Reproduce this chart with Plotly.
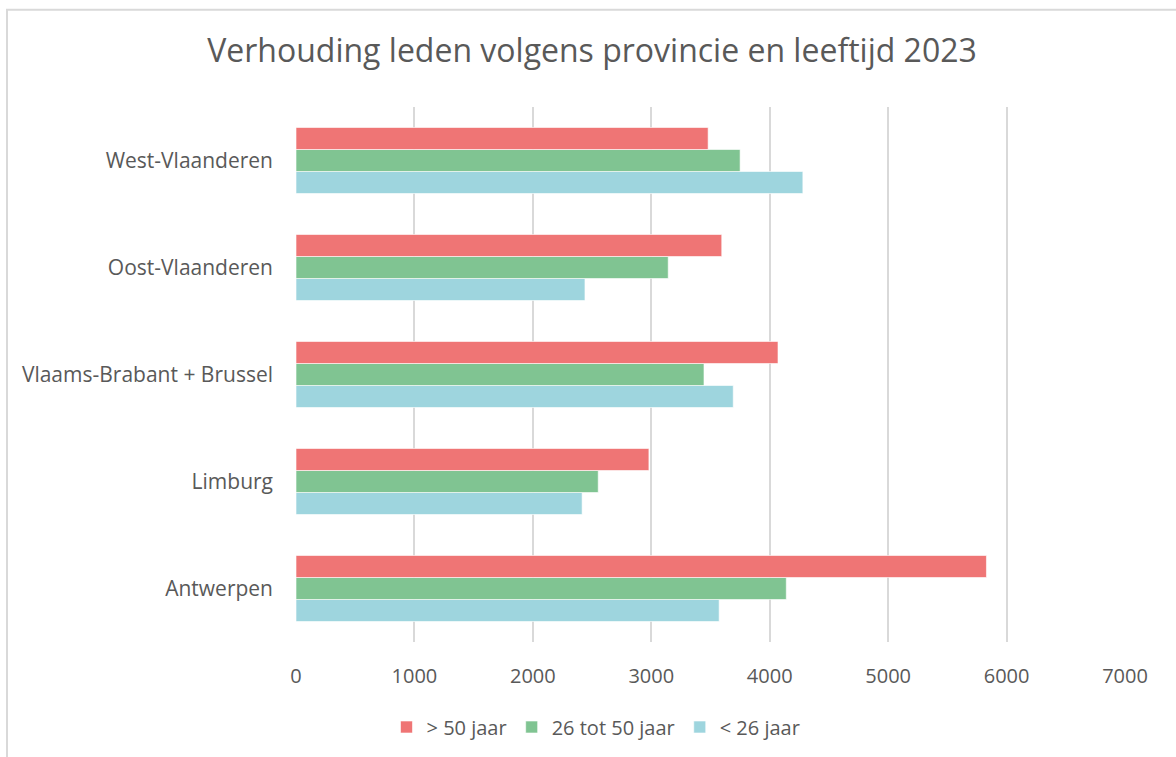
import plotly.graph_objects as go

provinces = ["Antwerpen", "Limburg", "Vlaams-Brabant + Brussel", "Oost-Vlaanderen", "West-Vlaanderen"]
over_50 = [5830, 2980, 4070, 3595, 3480]
between_26_50 = [4140, 2552, 3445, 3143, 3750]
under_26 = [3573, 2416, 3692, 2440, 4280]

series_names = ["> 50 jaar", "26 tot 50 jaar", "< 26 jaar"]
colors = ["#EF7575", "#80C492", "#9ED5DE"]

fig = go.Figure()
# plotly places grouped horizontal bars bottom-up, so add in reverse
for name, vals, col in zip(series_names[::-1], [under_26, between_26_50, over_50], colors[::-1]):
    fig.add_trace(go.Bar(
        y=provinces, x=vals, name=name, orientation="h",
        marker=dict(color=col, line=dict(color="rgba(255,255,255,0.6)", width=1)),
    ))

W, H = 1176, 757
L, R, T, B = 296, 51, 107, 114
pw, ph = W - L - R, H - T - B

fig.update_layout(
    width=W, height=H,
    barmode="group", bargap=0.383, bargroupgap=0,
    plot_bgcolor="white", paper_bgcolor="white",
    margin=dict(l=L, r=R, t=T, b=B),
    font=dict(family="Open Sans, Liberation Sans, sans-serif", color="#595959", size=20),
    title=dict(text="Verhouding leden volgens provincie en leeftijd 2023",
               x=592 / W, xanchor="center",
               y=1 - 51 / H, yanchor="middle",
               font=dict(size=32, color="#595959")),
    xaxis=dict(range=[0, 7000], dtick=1000, showgrid=True, gridcolor="#d9d9d9", gridwidth=2,
               zeroline=False, showline=False, ticks="", tickfont=dict(size=20, color="#595959"),
               ticklabelstandoff=20, fixedrange=True),
    yaxis=dict(categoryorder="array", categoryarray=provinces, showgrid=False, zeroline=False,
               showline=False, ticks="", ticklabelstandoff=22, tickfont=dict(size=21, color="#595959")),
    legend=dict(orientation="h", traceorder="reversed", x=(596 - L) / pw,
                xanchor="center", y=-(727 - (T + ph)) / ph, yanchor="middle",
                font=dict(size=20, color="#595959"), itemwidth=30),
    shapes=[dict(type="rect", xref="paper", yref="paper",
                 x0=(7 - L) / pw, x1=(W + 20 - L) / pw,
                 y0=-(H + 20 - T - ph) / ph, y1=1 + (T - 9.5) / ph,
                 line=dict(color="#d9d9d9", width=2), fillcolor="rgba(0,0,0,0)", layer="below")],
)

fig.write_html("out.html", config={"displayModeBar": False},
               post_script="document.body.style.margin='0';")
